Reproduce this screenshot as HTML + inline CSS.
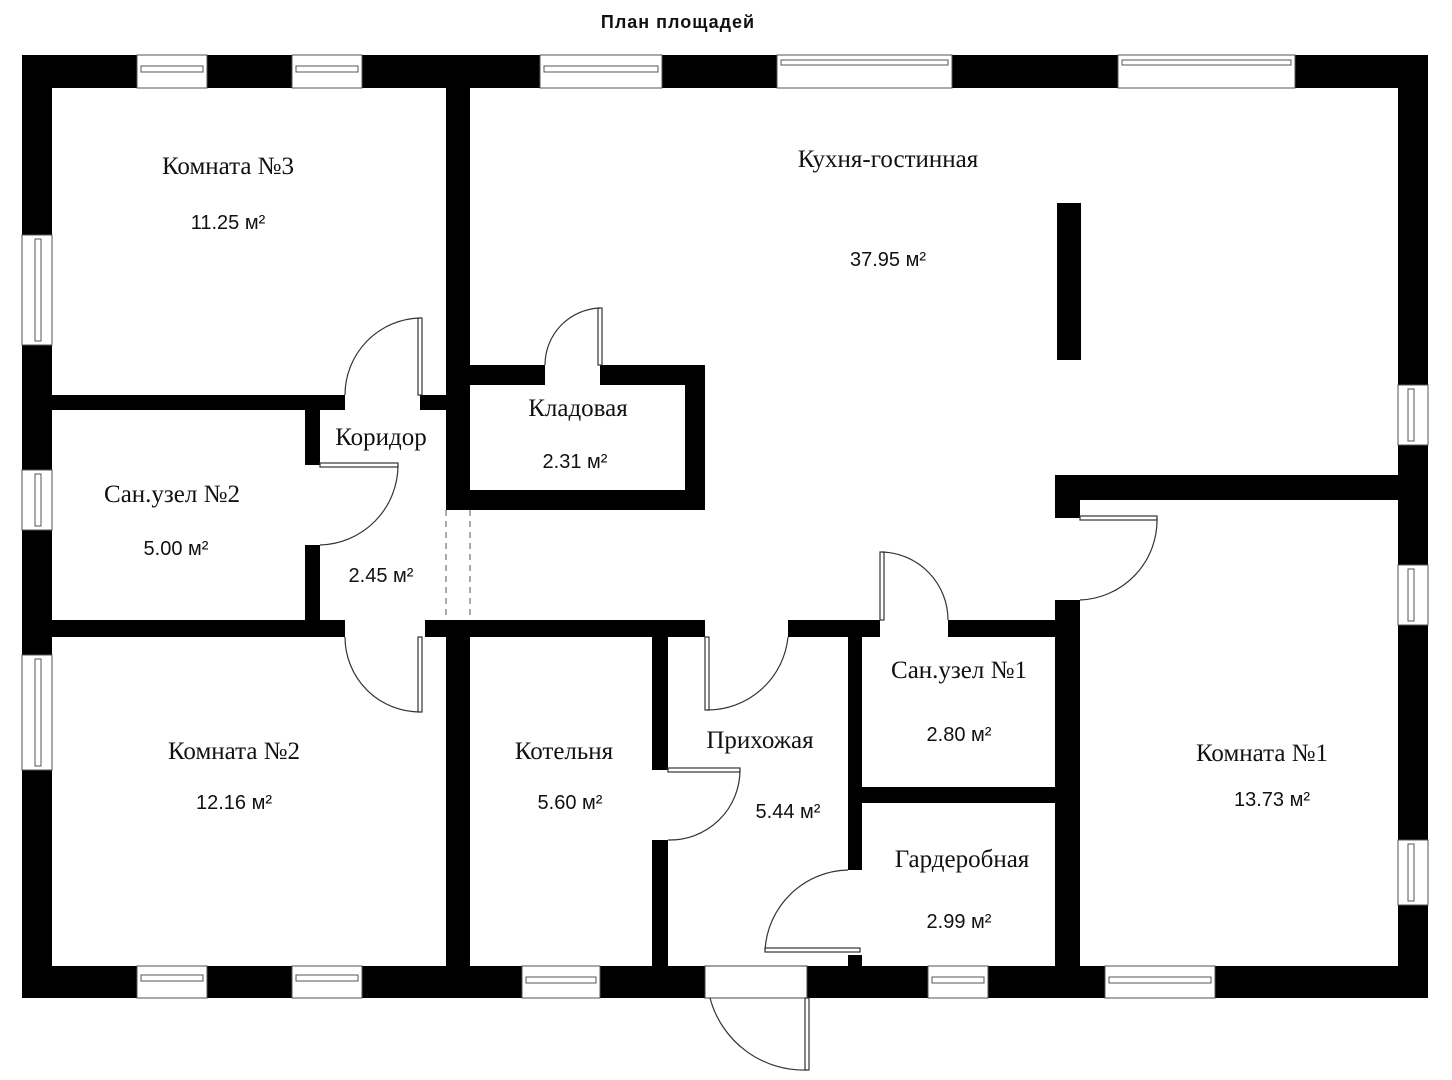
<!DOCTYPE html>
<html><head><meta charset="utf-8"><style>
html,body{margin:0;padding:0;background:#fff;}
svg{display:block;}
.n{font-family:"Liberation Serif",serif;font-size:25px;fill:#111;}
.a{font-family:"Liberation Sans",sans-serif;font-size:20px;fill:#111;}
.w{fill:#000;}
.win{fill:#fff;stroke:#555;stroke-width:1;}
.d{fill:none;stroke:#333;stroke-width:1.2;}
</style></head><body>
<svg width="1452" height="1080" viewBox="0 0 1452 1080" xmlns="http://www.w3.org/2000/svg">
<rect width="1452" height="1080" fill="#fff"/>
<text x="678" y="28" text-anchor="middle" style="font-family:'Liberation Sans',sans-serif;font-size:18px;font-weight:bold;letter-spacing:1px" fill="#111">План площадей</text>

<rect class="w" x="22" y="55" width="1406" height="33"/>
<rect class="w" x="22" y="966" width="1406" height="32"/>
<rect class="w" x="22" y="55" width="30" height="943"/>
<rect class="w" x="1398" y="55" width="30" height="943"/>

<g>
<rect class="win" x="137" y="55" width="70" height="33"/><rect class="win" x="141" y="66" width="62" height="6"/>
<rect class="win" x="292" y="55" width="70" height="33"/><rect class="win" x="296" y="66" width="62" height="6"/>
<rect class="win" x="540" y="55" width="122" height="33"/><rect class="win" x="544" y="66" width="114" height="6"/>
<rect class="win" x="777" y="55" width="175" height="33"/><rect class="win" x="781" y="60" width="167" height="5"/>
<rect class="win" x="1118" y="55" width="177" height="33"/><rect class="win" x="1122" y="60" width="169" height="5"/>
</g>
<rect class="win" x="22" y="235" width="30" height="110"/><rect class="win" x="35" y="239" width="6" height="102"/>
<rect class="win" x="22" y="470" width="30" height="60"/><rect class="win" x="35" y="474" width="6" height="52"/>
<rect class="win" x="22" y="655" width="30" height="115"/><rect class="win" x="35" y="659" width="6" height="107"/>
<rect class="win" x="1398" y="385" width="30" height="60"/><rect class="win" x="1408" y="389" width="6" height="52"/>
<rect class="win" x="1398" y="565" width="30" height="60"/><rect class="win" x="1408" y="569" width="6" height="52"/>
<rect class="win" x="1398" y="840" width="30" height="65"/><rect class="win" x="1408" y="844" width="6" height="57"/>
<rect class="win" x="137" y="966" width="70" height="32"/><rect class="win" x="141" y="975" width="62" height="6"/>
<rect class="win" x="292" y="966" width="70" height="32"/><rect class="win" x="296" y="975" width="62" height="6"/>
<rect class="win" x="522" y="966" width="78" height="32"/><rect class="win" x="526" y="977" width="70" height="6"/>
<rect class="win" x="928" y="966" width="60" height="32"/><rect class="win" x="932" y="977" width="52" height="6"/>
<rect class="win" x="1105" y="966" width="110" height="32"/><rect class="win" x="1109" y="977" width="102" height="6"/>
<rect x="705" y="966" width="102" height="32" fill="#fff" stroke="#444" stroke-width="1"/>

<rect class="w" x="446" y="88" width="24" height="422"/>
<rect class="w" x="52" y="395" width="293" height="15"/>
<rect class="w" x="420" y="395" width="26" height="15"/>
<rect class="w" x="470" y="365" width="75" height="20"/>
<rect class="w" x="600" y="365" width="105" height="20"/>
<rect class="w" x="685" y="365" width="20" height="145"/>
<rect class="w" x="446" y="490" width="259" height="20"/>
<line x1="446" y1="510" x2="446" y2="620" stroke="#555" stroke-dasharray="6,5"/>
<line x1="470" y1="510" x2="470" y2="620" stroke="#555" stroke-dasharray="6,5"/>
<rect class="w" x="305" y="410" width="15" height="55"/>
<rect class="w" x="305" y="545" width="15" height="80"/>
<rect class="w" x="52" y="620" width="293" height="17"/>
<rect class="w" x="425" y="620" width="280" height="17"/>
<rect class="w" x="788" y="620" width="92" height="17"/>
<rect class="w" x="948" y="620" width="110" height="17"/>
<rect class="w" x="446" y="620" width="24" height="346"/>
<rect class="w" x="652" y="637" width="16" height="133"/>
<rect class="w" x="652" y="840" width="16" height="126"/>
<rect class="w" x="848" y="637" width="14" height="233"/>
<rect class="w" x="848" y="955" width="14" height="11"/>
<rect class="w" x="862" y="787" width="196" height="16"/>
<rect class="w" x="1055" y="475" width="343" height="25"/>
<rect class="w" x="1055" y="475" width="25" height="43"/>
<rect class="w" x="1055" y="600" width="25" height="366"/>
<rect class="w" x="1057" y="203" width="24" height="157"/>

<rect class="d" x="418" y="318" width="4" height="77"/><path class="d" d="M345,395 A77,77 0 0 1 420,318"/>
<rect class="d" x="598" y="308" width="4" height="57"/><path class="d" d="M545,365 A57,57 0 0 1 600,308"/>
<rect class="d" x="320" y="463" width="78" height="4"/><path class="d" d="M398,465 A80,80 0 0 1 320,545"/>
<rect class="d" x="418" y="637" width="4" height="75"/><path class="d" d="M345,637 A75,75 0 0 0 420,712"/>
<rect class="d" x="705" y="637" width="4" height="73"/><path class="d" d="M707,710 A81,81 0 0 0 788,637"/>
<rect class="d" x="880" y="552" width="4" height="68"/><path class="d" d="M882,552 A68,68 0 0 1 948,620"/>
<rect class="d" x="1080" y="516" width="77" height="4"/><path class="d" d="M1157,518 A80,80 0 0 1 1080,600"/>
<rect class="d" x="668" y="768" width="72" height="4"/><path class="d" d="M740,770 A70,70 0 0 1 668,840"/>
<rect class="d" x="765" y="948" width="95" height="4"/><path class="d" d="M765,950 A85,85 0 0 1 848,870"/>
<rect class="d" x="805" y="998" width="4" height="72"/><path class="d" d="M710,998 A97,97 0 0 0 807,1070"/>

<text class="n" x="228" y="174" text-anchor="middle">Комната №3</text>
<text class="a" x="228" y="229" text-anchor="middle">11.25 м²</text>
<text class="n" x="888" y="167" text-anchor="middle">Кухня-гостинная</text>
<text class="a" x="888" y="266" text-anchor="middle">37.95 м²</text>
<text class="n" x="578" y="416" text-anchor="middle">Кладовая</text>
<text class="a" x="575" y="468" text-anchor="middle">2.31 м²</text>
<text class="n" x="381" y="445" text-anchor="middle">Коридор</text>
<text class="a" x="381" y="582" text-anchor="middle">2.45 м²</text>
<text class="n" x="172" y="502" text-anchor="middle">Сан.узел №2</text>
<text class="a" x="176" y="555" text-anchor="middle">5.00 м²</text>
<text class="n" x="234" y="759" text-anchor="middle">Комната №2</text>
<text class="a" x="234" y="809" text-anchor="middle">12.16 м²</text>
<text class="n" x="564" y="759" text-anchor="middle">Котельня</text>
<text class="a" x="570" y="809" text-anchor="middle">5.60 м²</text>
<text class="n" x="760" y="748" text-anchor="middle">Прихожая</text>
<text class="a" x="788" y="818" text-anchor="middle">5.44 м²</text>
<text class="n" x="959" y="678" text-anchor="middle">Сан.узел №1</text>
<text class="a" x="959" y="741" text-anchor="middle">2.80 м²</text>
<text class="n" x="962" y="867" text-anchor="middle">Гардеробная</text>
<text class="a" x="959" y="928" text-anchor="middle">2.99 м²</text>
<text class="n" x="1262" y="761" text-anchor="middle">Комната №1</text>
<text class="a" x="1272" y="806" text-anchor="middle">13.73 м²</text>
</svg>
</body></html>
